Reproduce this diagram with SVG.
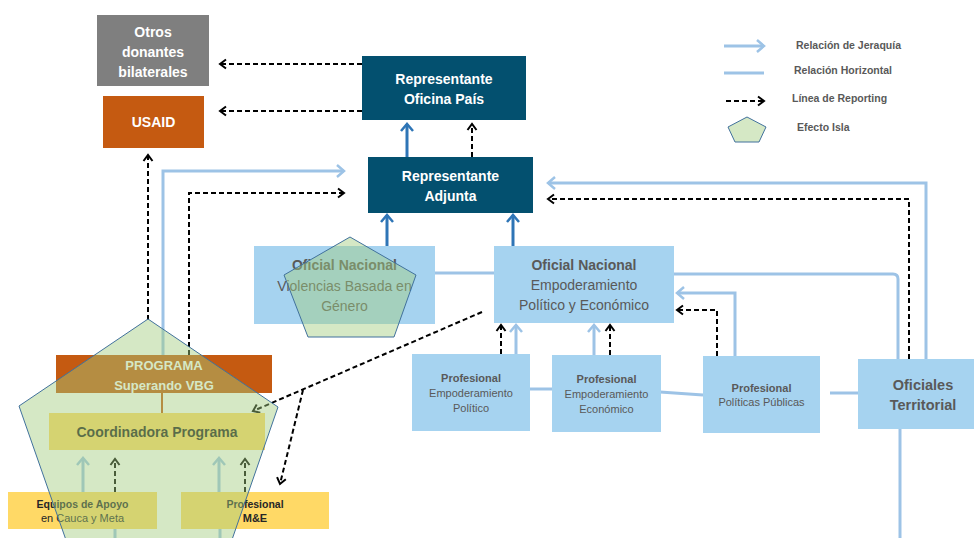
<svg xmlns="http://www.w3.org/2000/svg" width="974" height="538" viewBox="0 0 974 538">
  <defs>
    <style>
      text { font-family: "Liberation Sans", Arial, sans-serif; text-anchor: middle; }
      .dark { fill: #03506f; }
      .light { fill: #a6d3f0; }
      .gray { fill: #7f7f7f; }
      .orange { fill: #c55a11; }
      .yellow { fill: #ffd966; }
      .tw { fill: #ffffff; font-weight: bold; font-size: 14px; }
      .tg { fill: #595959; font-size: 14px; }
      .tgb { fill: #595959; font-size: 14px; font-weight: bold; }
      .ts { fill: #595959; font-size: 11px; }
      .tsb { fill: #595959; font-size: 11px; font-weight: bold; }
      .leg { fill: #595959; font-size: 10.5px; font-weight: bold; text-anchor: start; }
      .hier { stroke: #9dc3e6; stroke-width: 3; fill: none; }
      .hierArrow { stroke: #9dc3e6; stroke-width: 3; fill: none; marker-end: url(#mLight); }
      .up { stroke: #2e75b6; stroke-width: 3; fill: none; marker-end: url(#mBlue); }
      .rep { stroke: #000000; stroke-width: 2; stroke-dasharray: 5 3; fill: none; marker-end: url(#mBlack); }
      .island { fill: rgb(162,204,127); fill-opacity: 0.45; stroke: #41719c; stroke-width: 1; }
    </style>
    <marker id="mLight" markerUnits="userSpaceOnUse" markerWidth="14" markerHeight="14" refX="9" refY="7" orient="auto">
      <path d="M2,1 L9,7 L2,13" fill="none" stroke="#9dc3e6" stroke-width="2.5"/>
    </marker>
    <marker id="mBlue" markerUnits="userSpaceOnUse" markerWidth="14" markerHeight="14" refX="9" refY="7" orient="auto">
      <path d="M2,1 L9,7 L2,13" fill="none" stroke="#2e75b6" stroke-width="2.5"/>
    </marker>
    <marker id="mBlack" markerUnits="userSpaceOnUse" markerWidth="12" markerHeight="12" refX="8" refY="6" orient="auto">
      <path d="M2,1.5 L8,6 L2,10.5" fill="none" stroke="#000000" stroke-width="2"/>
    </marker>
  </defs>

  <rect width="974" height="538" fill="#ffffff"/>

  <!-- connectors -->
  <g id="connectors">
    <!-- reporting lines to donors -->
    <line class="rep" x1="362" y1="64" x2="220" y2="64"/>
    <line class="rep" x1="362" y1="111" x2="220" y2="111"/>
    <!-- Adjunta to Oficina País -->
    <line class="up" x1="407" y1="157" x2="407" y2="124"/>
    <line class="rep" x1="472" y1="157" x2="472" y2="124"/>
    <!-- national officers to Adjunta -->
    <line class="up" x1="387" y1="246" x2="387" y2="215"/>
    <line class="up" x1="513" y1="246" x2="513" y2="215"/>
    <!-- programme lines up to USAID and Adjunta -->
    <line class="rep" x1="148" y1="320" x2="148" y2="155"/>
    <path class="hierArrow" d="M163,355 V171 H344"/>
    <path class="rep" d="M189,355 V193 H344"/>
    <!-- territorial officers to Adjunta -->
    <path class="hierArrow" d="M926,359 V183 H548"/>
    <path class="rep" d="M909,359 V199 H548"/>
    <!-- Empoderamiento to territorial -->
    <path class="hier" d="M674,274 H893 Q898,274 898,279 V359"/>
    <!-- Políticas Públicas to Empoderamiento -->
    <path class="hierArrow" d="M735,356 V293 H677"/>
    <path class="rep" d="M717,356 V310 H677"/>
    <!-- professionals to Empoderamiento -->
    <line class="rep" x1="501" y1="354" x2="501" y2="325"/>
    <line class="hierArrow" x1="516" y1="354" x2="516" y2="325"/>
    <line class="hierArrow" x1="594" y1="355" x2="594" y2="325"/>
    <line class="rep" x1="610" y1="355" x2="610" y2="325"/>
    <!-- horizontal relations -->
    <line class="hier" x1="435" y1="273" x2="494" y2="273"/>
    <line class="hier" x1="530" y1="389" x2="552" y2="389"/>
    <line class="hier" x1="660" y1="392" x2="703" y2="395"/>
    <line class="hier" x1="830" y1="393" x2="858" y2="393"/>
    <line class="hier" x1="900" y1="429" x2="900" y2="538"/>
    <!-- reporting from Empoderamiento into the programme -->
    <line class="rep" x1="482" y1="312" x2="253" y2="411"/>
    <line class="rep" x1="303" y1="390" x2="280" y2="484"/>
    <!-- programme internals -->
    <line x1="162" y1="393" x2="162" y2="413" stroke="#c55a11" stroke-width="2"/>
    <line class="hierArrow" x1="83" y1="492" x2="83" y2="458"/>
    <line class="rep" x1="115" y1="492" x2="115" y2="459"/>
    <line class="hierArrow" x1="219" y1="492" x2="219" y2="458"/>
    <line class="rep" x1="245" y1="492" x2="245" y2="459"/>
    <line class="hier" x1="115" y1="529" x2="115" y2="538"/>
    <line class="hier" x1="220" y1="529" x2="220" y2="538"/>
  </g>

  <!-- nodes -->
  <g id="otros-donantes">
    <rect class="gray" x="97" y="15" width="112" height="71"/>
    <text class="tw" x="153" y="37">Otros</text>
    <text class="tw" x="153" y="57">donantes</text>
    <text class="tw" x="153" y="77">bilaterales</text>
  </g>
  <g id="usaid">
    <rect class="orange" x="103" y="96" width="101" height="52"/>
    <text class="tw" x="153.5" y="127">USAID</text>
  </g>
  <g id="representante-oficina">
    <rect class="dark" x="362" y="56" width="164" height="64"/>
    <text class="tw" x="444" y="84">Representante</text>
    <text class="tw" x="444" y="104">Oficina País</text>
  </g>
  <g id="representante-adjunta">
    <rect class="dark" x="368" y="157" width="165" height="56"/>
    <text class="tw" x="450.5" y="181">Representante</text>
    <text class="tw" x="450.5" y="201">Adjunta</text>
  </g>
  <g id="oficial-vbg">
    <rect class="light" x="254" y="246" width="181" height="78"/>
    <text class="tgb" x="344.5" y="270">Oficial Nacional</text>
    <text class="tg" x="344.5" y="291">Violencias Basada en</text>
    <text class="tg" x="344.5" y="311">Género</text>
  </g>
  <g id="oficial-empoderamiento">
    <rect class="light" x="494" y="246" width="180" height="77"/>
    <text class="tgb" x="584" y="270">Oficial Nacional</text>
    <text class="tg" x="584" y="290">Empoderamiento</text>
    <text class="tg" x="584" y="310">Político y Económico</text>
  </g>
  <g id="profesional-politico">
    <rect class="light" x="412" y="354" width="118" height="77"/>
    <text class="tsb" x="471" y="382">Profesional</text>
    <text class="ts" x="471" y="397">Empoderamiento</text>
    <text class="ts" x="471" y="412">Político</text>
  </g>
  <g id="profesional-economico">
    <rect class="light" x="552" y="355" width="109" height="77"/>
    <text class="tsb" x="606.5" y="383">Profesional</text>
    <text class="ts" x="606.5" y="398">Empoderamiento</text>
    <text class="ts" x="606.5" y="413">Económico</text>
  </g>
  <g id="profesional-politicas">
    <rect class="light" x="703" y="356" width="117" height="77"/>
    <text class="tsb" x="761.5" y="392">Profesional</text>
    <text class="ts" x="761.5" y="406">Políticas Públicas</text>
  </g>
  <g id="oficiales-territorial">
    <rect class="light" x="858" y="359" width="120" height="70"/>
    <text class="tgb" x="923" y="390" style="font-size:14.5px">Oficiales</text>
    <text class="tgb" x="923" y="410" style="font-size:14.5px">Territorial</text>
  </g>
  <g id="programa">
    <rect class="orange" x="56" y="355" width="216" height="38"/>
    <text class="tw" x="164" y="370" style="font-size:13px">PROGRAMA</text>
    <text class="tw" x="164" y="390" style="font-size:13px">Superando VBG</text>
  </g>
  <g id="coordinadora">
    <rect class="yellow" x="49" y="413" width="216" height="37"/>
    <text x="157" y="437" style="font-size:14px;font-weight:bold;fill:#1e1e1e">Coordinadora Programa</text>
  </g>
  <g id="equipos-apoyo">
    <rect class="yellow" x="8" y="492" width="149" height="37"/>
    <text x="82.5" y="508" style="font-size:10.5px;font-weight:bold;fill:#262626">Equipos de Apoyo</text>
    <text x="82.5" y="522" style="font-size:11px;fill:#262626">en Cauca y Meta</text>
  </g>
  <g id="profesional-me">
    <rect class="yellow" x="181" y="492" width="148" height="37"/>
    <text x="255" y="508" style="font-size:10.5px;font-weight:bold;fill:#262626">Profesional</text>
    <text x="255" y="522" style="font-size:11px;font-weight:bold;fill:#262626">M&amp;E</text>
  </g>

  <!-- island effect overlays -->
  <g id="isla-programa">
    <polygon class="island" points="148,319 278,407 218,580 80,580 19,406"/>
  </g>
  <g id="isla-vbg">
    <polygon class="island" points="350,237 416,275 394,337 308,337 284,275"/>
  </g>

  <!-- legend -->
  <g id="legend">
    <line class="hierArrow" x1="724" y1="46" x2="764" y2="46"/>
    <text class="leg" x="796" y="49">Relación de Jeraquía</text>
    <line class="hier" x1="724" y1="73" x2="764" y2="73"/>
    <text class="leg" x="794" y="74">Relación Horizontal</text>
    <line class="rep" x1="726" y1="101" x2="764" y2="101"/>
    <text class="leg" x="792" y="102">Línea de Reporting</text>
    <polygon points="747,117 766,127 759,142 735,142 728,127" fill="#d5e8c5" stroke="#41719c" stroke-width="1"/>
    <text class="leg" x="797" y="131">Efecto Isla</text>
  </g>
</svg>
